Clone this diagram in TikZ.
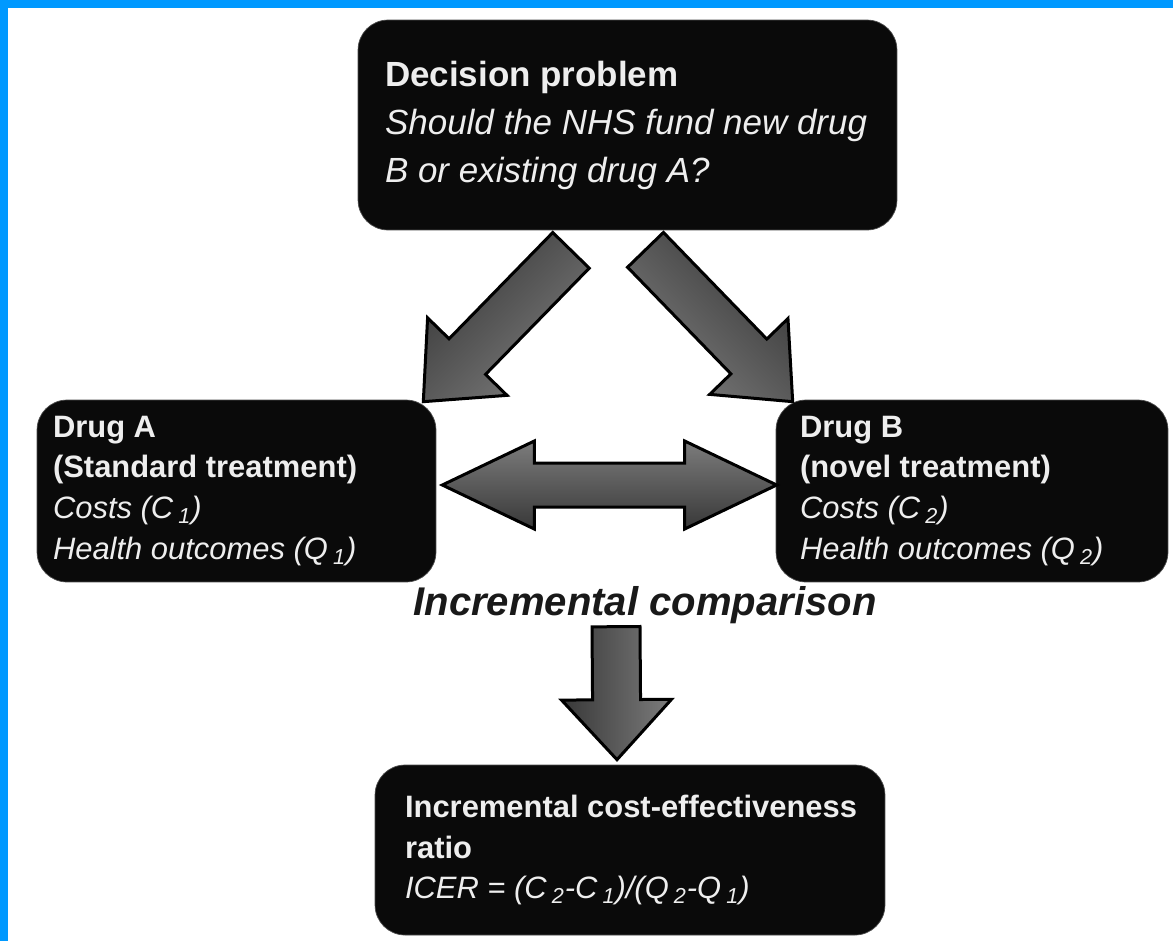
\documentclass[tikz,border=0pt]{standalone}
\usepackage{fontspec}
\setmainfont{Liberation Sans}
\usetikzlibrary{shapes,arrows,positioning,calc}

\definecolor{frameblue}{HTML}{0099FF}
\definecolor{boxblack}{HTML}{0A0A0A}
\definecolor{boxtext}{HTML}{EEEEEE}
\definecolor{arrowdark}{HTML}{383838}
\definecolor{arrowlight}{HTML}{7C7C7C}

\newcommand{\lowsub}[1]{\,\textsubscript{#1}}
% fat arrow: style, tail, tip, half shaft, half head, head length
\newcommand{\blockarrow}[6]{%
  \coordinate (hb) at ($(#3)!#6!(#2)$);
  \path[#1] ($(#2)!#4!90:(#3)$) -- ($(hb)!#4!90:(#3)$) -- ($(hb)!#5!90:(#3)$) -- (#3)
    -- ($(hb)!#5!-90:(#3)$) -- ($(hb)!#4!-90:(#3)$) -- ($(#2)!#4!-90:(#3)$) -- cycle;}
% same with a head at both ends
\newcommand{\blockarrows}[6]{%
  \coordinate (ha) at ($(#2)!#6!(#3)$);
  \coordinate (hb) at ($(#3)!#6!(#2)$);
  \path[#1] (#2) -- ($(ha)!#5!90:(#3)$) -- ($(ha)!#4!90:(#3)$) -- ($(hb)!#4!90:(#3)$)
    -- ($(hb)!#5!90:(#3)$) -- (#3) -- ($(hb)!#5!-90:(#3)$) -- ($(hb)!#4!-90:(#3)$)
    -- ($(ha)!#4!-90:(#3)$) -- ($(ha)!#5!-90:(#3)$) -- cycle;}

\begin{document}
\begin{tikzpicture}[x=0.02cm,y=-0.02cm,
  box/.style={rectangle, rounded corners=0.6cm, fill=boxblack, draw=black!70, text=boxtext, align=flush left, inner ysep=0pt},
  fatarrow/.style={draw=black, line width=0.06cm, line join=miter}]
\useasboundingbox (0,0) rectangle (1173,941);
\fill[white] (0,0) rectangle (1173,941);
\fill[frameblue] (0,0) rectangle (1173,8);
\fill[frameblue] (0,0) rectangle (8,941);

\node[box, minimum width=10.78cm, minimum height=4.2cm, text width=9.7cm, inner xsep=0.54cm, font=\fontsize{19.9}{27.3}\selectfont] (problem) at (627.5,125)
  {\textbf{Decision problem}\\ \textit{\mbox{Should the NHS fund new drug}}\\ \textit{B or existing drug A?}};
\node[box, minimum width=7.98cm, minimum height=3.64cm, text width=7.34cm, inner xsep=0.32cm, font=\fontsize{17.6}{23.3}\selectfont] (drugA) at (236.5,491)
  {\textbf{Drug A}\\ \textbf{(Standard treatment)}\\ \textit{Costs (C\lowsub{1})}\\ \textit{Health outcomes (Q\lowsub{1})}};
\node[box, minimum width=7.84cm, minimum height=3.64cm, text width=6.88cm, inner xsep=0.48cm, font=\fontsize{17.6}{23.3}\selectfont] (drugB) at (972,491)
  {\textbf{Drug B}\\ \textbf{(novel treatment)}\\ \textit{Costs (C\lowsub{2})}\\ \textit{Health outcomes (Q\lowsub{2})}};
\node[box, minimum width=10.2cm, minimum height=3.4cm, text width=9.0cm, inner xsep=0.6cm, font=\fontsize{17.6}{23.3}\selectfont] (icer) at (630,850)
  {\textbf{\mbox{Incremental cost-effectiveness}}\\ \textbf{ratio}\\ \textit{ICER = (C\lowsub{2}-C\lowsub{1})/(Q\lowsub{2}-Q\lowsub{1})}};
\node[font=\fontsize{22.8}{27}\selectfont\bfseries\itshape, text=black!90, anchor=base] (compare) at (645,615) {Incremental comparison};

\coordinate (tailA) at ($(problem.south)+(-56.5,20)$);
\coordinate (tipA) at ($(drugA.north east)+(-13,2)$);
\coordinate (tailB) at ($(problem.south)+(18,19.5)$);
\coordinate (tipB) at ($(drugB.north west)+(17,2)$);
\coordinate (endA) at ($(drugA.east)+(6,-6)$);
\coordinate (endB) at ($(drugB.west)+(1,-6)$);
\coordinate (tailR) at ($(icer.north)+(-14,-138)$);
\coordinate (tipR) at ($(icer.north)+(-13,-5)$);

\blockarrow{fatarrow, top color=arrowdark, bottom color=arrowlight, shading angle=45}{tailA}{tipA}{0.51cm}{1.11cm}{1.26cm}
\blockarrow{fatarrow, top color=arrowdark, bottom color=arrowlight, shading angle=-45}{tailB}{tipB}{0.5cm}{1.09cm}{1.26cm}
\blockarrows{fatarrow, top color=arrowlight, bottom color=arrowdark}{endA}{endB}{0.44cm}{0.88cm}{1.84cm}
\blockarrow{fatarrow, left color=arrowdark, right color=arrowlight}{tailR}{tipR}{0.48cm}{1.1cm}{1.2cm}
\end{tikzpicture}
\end{document}
